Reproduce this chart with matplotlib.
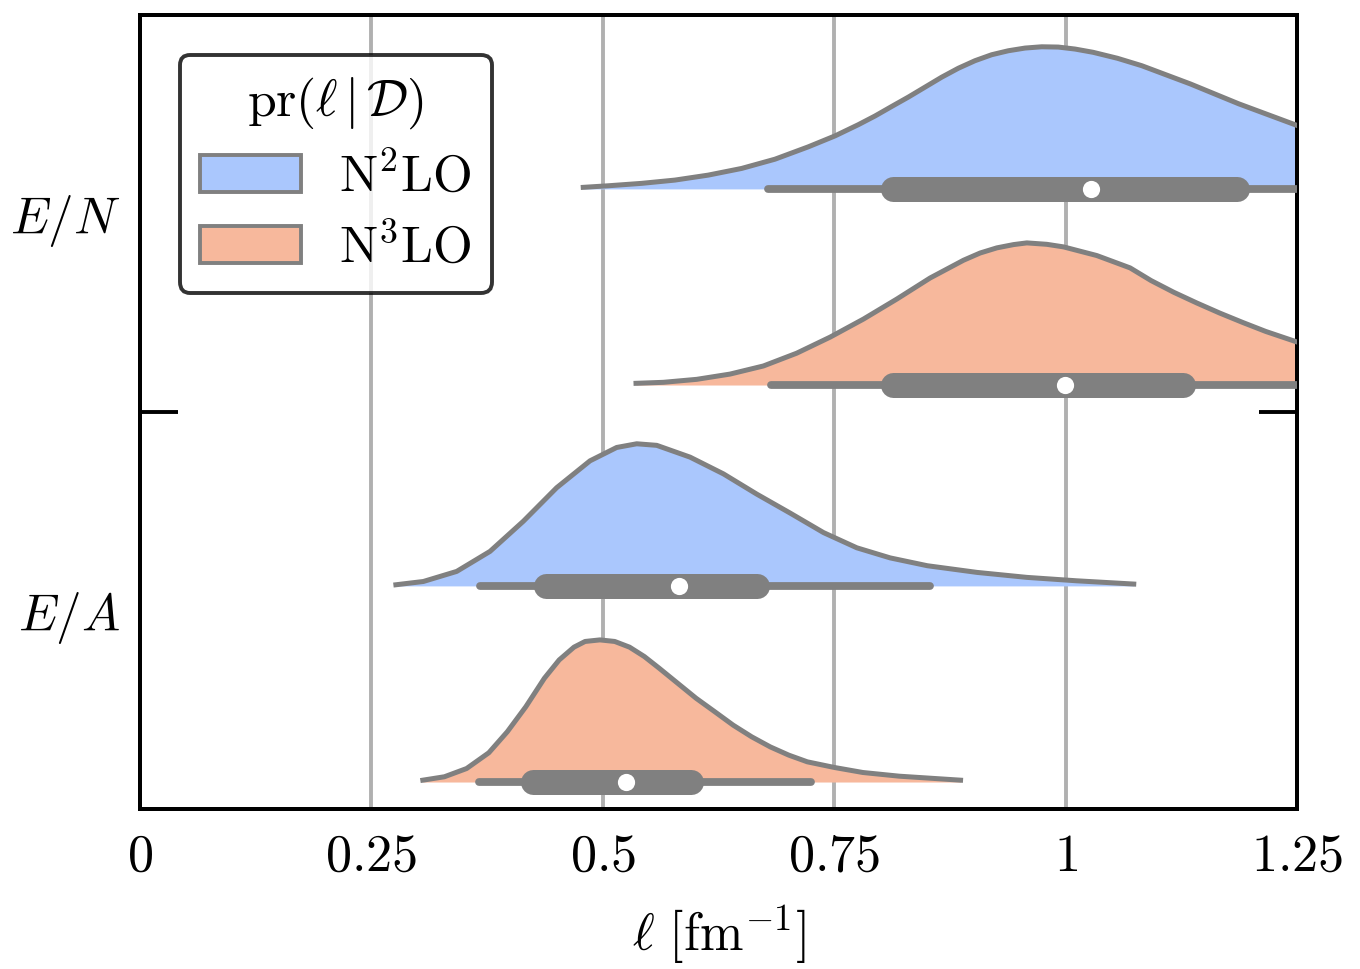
import matplotlib
matplotlib.use("Agg")
import matplotlib.pyplot as plt
from matplotlib.patches import Patch

plt.rcParams["mathtext.fontset"] = "cm"
plt.rcParams["font.family"] = "serif"
plt.rcParams["font.serif"] = ["cmr10", "DejaVu Serif"]

# observables (y categories) and EFT orders (hue)
observables = [r"$E/N$", r"$E/A$"]
orders = [r"$\mathrm{N}^2\mathrm{LO}$", r"$\mathrm{N}^3\mathrm{LO}$"]
order_colors = ["#aac7fd", "#f7b89c"]

# posterior densities (x in fm^-1, density relative to its peak)
ell_en_n2lo = [0.4789, 0.5059, 0.5419, 0.5779, 0.6139, 0.6500, 0.6860, 0.7220, 0.7509, 0.7761,
               0.7941, 0.8121, 0.8301, 0.8481, 0.8661, 0.8841, 0.9021, 0.9201, 0.9381, 0.9562,
               0.9742, 0.9921, 1.0102, 1.0298, 1.0560, 1.0822, 1.1346, 1.1869, 1.2498, 1.3000]
pdf_en_n2lo = [0.011, 0.022, 0.039, 0.062, 0.097, 0.144, 0.209, 0.296, 0.373, 0.452,
               0.513, 0.580, 0.646, 0.716, 0.786, 0.849, 0.902, 0.944, 0.972, 0.991,
               1.000, 0.998, 0.984, 0.961, 0.919, 0.867, 0.739, 0.599, 0.447, 0.330]

ell_en_n3lo = [0.5359, 0.5654, 0.6015, 0.6375, 0.6735, 0.7095, 0.7456, 0.7816, 0.8177, 0.8536,
               0.8897, 0.9077, 0.9257, 0.9437, 0.9581, 0.9797, 0.9977, 1.0337, 1.0697, 1.0923,
               1.1170, 1.1418, 1.1666, 1.1914, 1.2162, 1.2485, 1.3000]
pdf_en_n3lo = [0.012, 0.019, 0.040, 0.077, 0.134, 0.224, 0.337, 0.464, 0.605, 0.753,
               0.878, 0.929, 0.965, 0.988, 1.000, 0.990, 0.972, 0.911, 0.824, 0.735,
               0.652, 0.577, 0.506, 0.440, 0.377, 0.306, 0.200]

ell_ea_n2lo = [0.2765, 0.3061, 0.3422, 0.3782, 0.4142, 0.4502, 0.4862, 0.5150, 0.5367, 0.5583,
               0.5943, 0.6304, 0.6663, 0.7025, 0.7385, 0.7745, 0.8105, 0.8506, 0.9043, 0.9581,
               1.0118, 1.0736]
pdf_ea_n2lo = [0.008, 0.031, 0.102, 0.243, 0.455, 0.691, 0.880, 0.974, 1.000, 0.989,
               0.906, 0.788, 0.646, 0.512, 0.375, 0.268, 0.197, 0.142, 0.095, 0.060,
               0.036, 0.013]

ell_ea_n3lo = [0.3056, 0.3289, 0.3529, 0.3769, 0.3969, 0.4169, 0.4369, 0.4529, 0.4689, 0.4809,
               0.4969, 0.5129, 0.5289, 0.5449, 0.5609, 0.5809, 0.6009, 0.6209, 0.6409, 0.6609,
               0.6810, 0.7010, 0.7210, 0.7505, 0.7810, 0.8204, 0.8865]
pdf_ea_n3lo = [0.013, 0.037, 0.095, 0.206, 0.354, 0.530, 0.730, 0.859, 0.949, 0.989,
               1.000, 0.989, 0.949, 0.883, 0.801, 0.695, 0.589, 0.495, 0.400, 0.318,
               0.247, 0.189, 0.142, 0.102, 0.067, 0.041, 0.013]

# inner box stats: [whisker low, q1, median, q3, whisker high]
box_en_n2lo = [0.678, 0.813, 1.027, 1.185, 1.300]
box_en_n3lo = [0.682, 0.813, 0.999, 1.127, 1.300]
box_ea_n2lo = [0.367, 0.439, 0.582, 0.667, 0.854]
box_ea_n3lo = [0.366, 0.425, 0.525, 0.595, 0.7245]

violins = [
    (0, 0, ell_en_n2lo, pdf_en_n2lo, box_en_n2lo),
    (0, 1, ell_en_n3lo, pdf_en_n3lo, box_en_n3lo),
    (1, 0, ell_ea_n2lo, pdf_ea_n2lo, box_ea_n2lo),
    (1, 1, ell_ea_n3lo, pdf_ea_n3lo, box_ea_n3lo),
]

grey = "#808080"
offsets = [-0.062, 0.432]
height = 0.358

fig = plt.figure(figsize=(3.4, 2.4225), dpi=400)
ax = fig.add_axes([0.1029, 0.1651, 0.8508, 0.8194])

for i, j, ell, pdf, box in violins:
    base = i + offsets[j]
    top = [base - height * p for p in pdf]
    ax.fill_between(ell, base, top, color=order_colors[j], lw=0, zorder=2)
    ax.plot(ell, top, color=grey, lw=0.9, zorder=3, solid_joinstyle="round")
    ax.plot([box[0], box[4]], [base, base], color=grey, lw=1.4,
            solid_capstyle="round", zorder=4)
    ax.plot([box[1], box[3]], [base, base], color=grey, lw=4.5,
            solid_capstyle="round", zorder=4)
    ax.plot([box[2]], [base], "o", color="white", ms=3.1, mec="none", zorder=5)

ax.set_xlim(0, 1.25)
ax.set_ylim(1.5, -0.5)
ax.set_xticks([0, 0.25, 0.5, 0.75, 1, 1.25])
ax.set_xticklabels([r"$0$", r"$0.25$", r"$0.5$", r"$0.75$", r"$1$", r"$1.25$"])
ax.tick_params(axis="x", length=0, pad=4.5, labelsize=9.4)

ax.set_yticks([0.5])
ax.set_yticklabels([])
ax.set_yticks([0, 1], minor=True)
ax.set_yticklabels(observables, minor=True)
ax.tick_params(axis="y", which="major", direction="in", length=6.8, width=0.7,
               left=True, right=True)
ax.tick_params(axis="y", which="minor", length=0, pad=3.5, labelsize=9.2)

ax.grid(axis="x", color="#b0b0b0", lw=0.7, zorder=0)
ax.set_axisbelow(True)
for s in ax.spines.values():
    s.set_linewidth(0.72)

ax.set_xlabel(r"$\ell\ [\mathrm{fm}^{-1}]$", fontsize=9.4, labelpad=4)

handles = [Patch(facecolor=c, edgecolor=grey, lw=0.7) for c in order_colors]
leg = ax.legend(handles, orders, title=r"$\mathrm{pr}(\ell\,|\,\mathcal{D})$",
                loc="upper left", fontsize=9.2, title_fontsize=9.3,
                edgecolor="k", handlelength=1.97, handleheight=0.75,
                handletextpad=0.74, labelspacing=0.42, borderaxespad=0.78)
leg.get_frame().set_linewidth(0.7)

fig.savefig("out.png", dpi=400)
